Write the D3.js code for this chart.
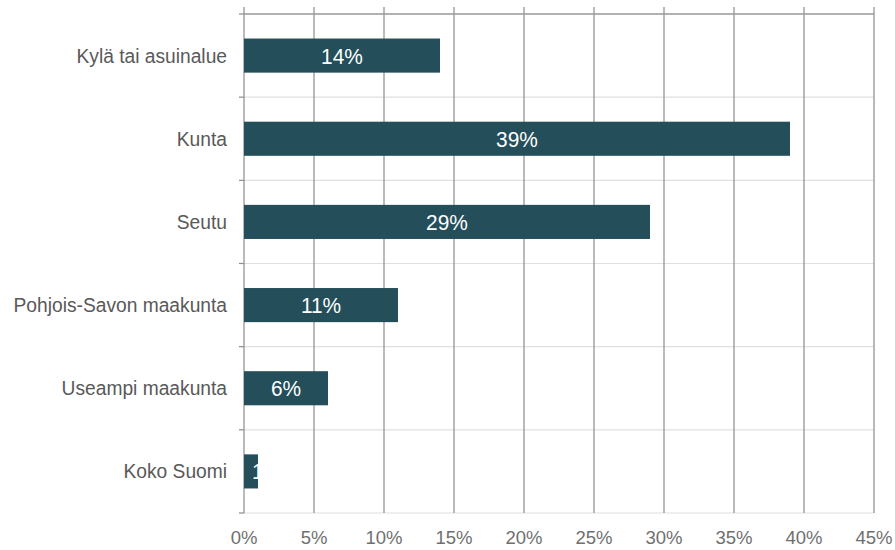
<!DOCTYPE html>
<html><head><meta charset="utf-8">
<script src="https://cdn.jsdelivr.net/npm/d3@7"></script>
<style>body{margin:0;background:#fff}svg{display:block}</style>
</head><body><svg id="c" width="895" height="550"></svg>
<script>
const categories = ["Kylä tai asuinalue","Kunta","Seutu","Pohjois-Savon maakunta","Useampi maakunta","Koko Suomi"];
const values = [14,39,29,11,6,1];
const tickValues = [0,5,10,15,20,25,30,35,40,45];

const svg = d3.select("#c");
const m = {l:244, r:874, t:14, b:513};
const font = "'Liberation Sans', Arial, sans-serif";
const x = d3.scaleLinear().domain([0,45]).range([m.l, m.r]);
const y = d3.scaleBand().domain(categories).range([m.t, m.b]).paddingInner(0.59).paddingOuter(0.295);
const bandAll = (m.b - m.t) / categories.length;

// horizontal separators
const seps = d3.range(1, categories.length + 1).map(i => m.t + i * bandAll);
svg.selectAll("line.sep").data(seps).join("line")
  .attr("x1", m.l).attr("x2", m.r).attr("y1", d => d).attr("y2", d => d)
  .attr("stroke", "#e0e0e0").attr("stroke-width", 1.2);
// vertical gridlines
svg.selectAll("line.grid").data(tickValues.slice(1)).join("line")
  .attr("x1", d => x(d)).attr("x2", d => x(d)).attr("y1", m.t - 7).attr("y2", m.b)
  .attr("stroke", "#8c8c8c").attr("stroke-width", 1.2);
// top line
svg.append("line").attr("x1", m.l).attr("x2", m.r).attr("y1", m.t).attr("y2", m.t)
  .attr("stroke", "#999").attr("stroke-width", 1.5);
// left axis
svg.append("line").attr("x1", m.l).attr("x2", m.l).attr("y1", m.t - 7).attr("y2", m.b)
  .attr("stroke", "#8c8c8c").attr("stroke-width", 1.2);
// y tick marks at boundaries
const bounds = d3.range(0, categories.length + 1).map(i => m.t + i * bandAll);
svg.selectAll("line.yt").data(bounds).join("line")
  .attr("x1", m.l - 5).attr("x2", m.l).attr("y1", d => d).attr("y2", d => d)
  .attr("stroke", "#8c8c8c").attr("stroke-width", 1.2);

// x labels
svg.selectAll("text.xl").data(tickValues).join("text")
  .attr("x", d => x(d)).attr("y", 544).attr("text-anchor", "middle")
  .attr("font-family", font).attr("font-size", 18.5).attr("fill", "#6f6f6f")
  .text(d => d + "%");

// category labels
svg.selectAll("text.cl").data(categories).join("text")
  .attr("transform", d => `translate(227,${y(d) + y.bandwidth() / 2 + 7}) scale(0.915,1)`)
  .attr("text-anchor", "end")
  .attr("font-family", font).attr("font-size", 21).attr("fill", "#595959")
  .text(d => d);

const data = categories.map((c, i) => ({c, v: values[i], i}));
const defs = svg.append("defs");
defs.selectAll("clipPath").data(data).join("clipPath").attr("id", d => "cp" + d.i)
  .append("rect").attr("x", x(0)).attr("y", d => y(d.c))
  .attr("width", d => x(d.v) - x(0)).attr("height", y.bandwidth());

svg.selectAll("rect.bar").data(data).join("rect")
  .attr("x", x(0)).attr("y", d => y(d.c))
  .attr("width", d => x(d.v) - x(0)).attr("height", y.bandwidth())
  .attr("fill", "#234e5a");

const lg = svg.selectAll("g.bl").data(data).join("g")
  .attr("clip-path", d => "url(#cp" + d.i + ")");
lg.append("text")
  .attr("font-family", font).attr("font-size", 22)
  .attr("fill", "#fff").text(d => d.v + "%")
  .each(function(d) {
    const w = this.getComputedTextLength() * 0.95;
    const bw = x(d.v) - x(0);
    const cy = y(d.c) + y.bandwidth() / 2 + 8;
    const t = d3.select(this);
    if (w + 4 < bw) {
      t.attr("text-anchor", "middle")
       .attr("transform", `translate(${(x(0) + x(d.v)) / 2},${cy}) scale(0.95,1)`);
    } else {
      t.attr("text-anchor", "start")
       .attr("transform", `translate(${x(0) + 8},${cy}) scale(0.95,1)`);
    }
  });
</script></body></html>
